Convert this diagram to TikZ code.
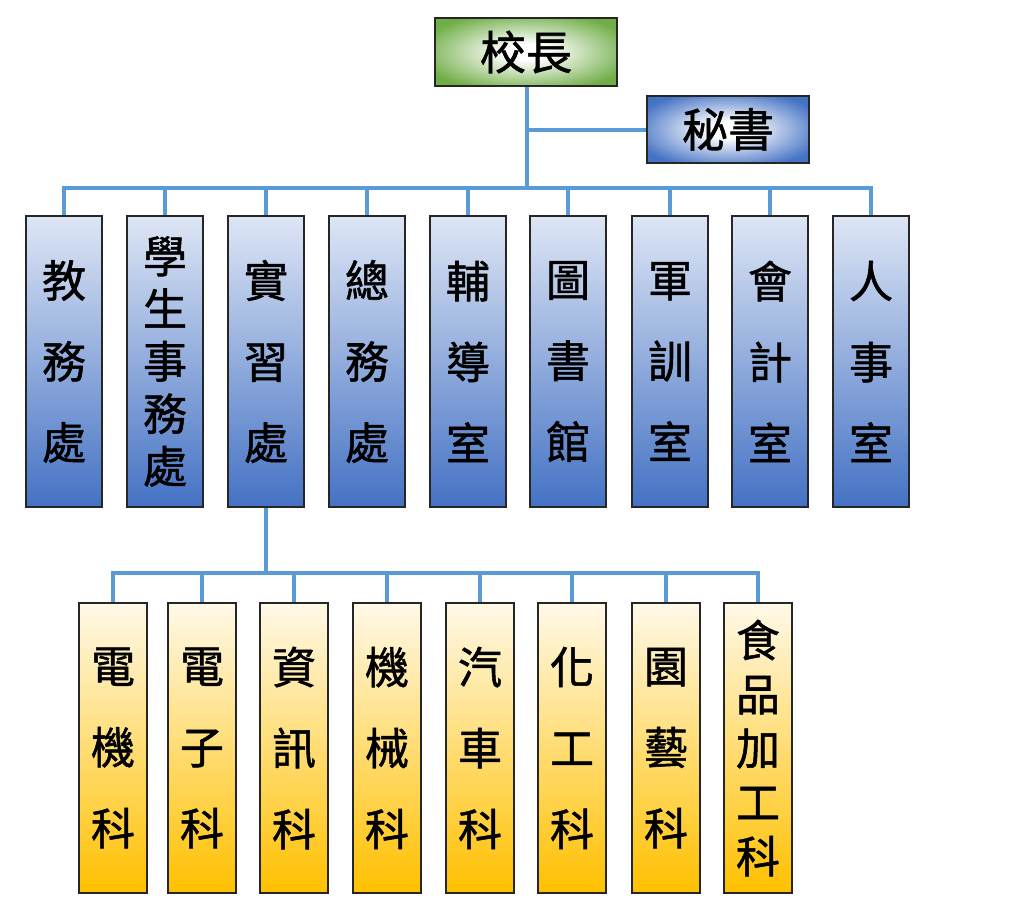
\documentclass[tikz,border=0pt]{standalone}
\usepackage{fontspec}
\newfontfamily\cjk[FakeBold=1.2]{Noto Sans CJK TC}
\definecolor{lineblue}{RGB}{91,155,213}
\definecolor{boxblue}{RGB}{68,114,196}
\definecolor{boxbluetop}{RGB}{222,230,245}
\definecolor{boxgreen}{RGB}{112,173,71}
\definecolor{boxyellow}{RGB}{255,192,0}
\definecolor{boxyellowtop}{RGB}{255,249,232}
\pgfdeclareradialshading{greenglow}{\pgfpoint{0bp}{0bp}}{rgb(0bp)=(1,1,1); rgb(6bp)=(1,1,1); rgb(30bp)=(0.44,0.68,0.28); rgb(75bp)=(0.44,0.68,0.28)}
\pgfdeclareradialshading{blueglow}{\pgfpoint{0bp}{0bp}}{rgb(0bp)=(1,1,1); rgb(6bp)=(1,1,1); rgb(30bp)=(0.27,0.45,0.77); rgb(75bp)=(0.27,0.45,0.77)}
\tikzset{
  conn/.style={draw=lineblue, line width=4pt},
  topbox/.style={draw=black!85, line width=1.5pt, minimum width=#1, minimum height=68pt, inner sep=0pt, font=\cjk\fontsize{46}{46}\selectfont},
  officebox/.style={draw=black!85, line width=1.5pt, top color=boxbluetop, bottom color=boxblue, minimum width=76pt, minimum height=291pt, inner sep=0pt, align=center, font=\cjk\fontsize{44}{81}\selectfont},
  officetight/.style={officebox, font=\cjk\fontsize{44}{52.5}\selectfont},
  deptbox/.style={draw=black!85, line width=1.5pt, top color=boxyellowtop, bottom color=boxyellow, minimum width=68pt, minimum height=290pt, inner sep=0pt, align=center, font=\cjk\fontsize{44}{81}\selectfont},
  depttight/.style={deptbox, font=\cjk\fontsize{44}{54}\selectfont},
}
\begin{document}
\begin{tikzpicture}[x=1pt,y=-1pt]
\useasboundingbox (0,0) rectangle (1024,916);
% top
\node[topbox=182pt, shading=greenglow] (p) at (526,52) {校長};
\node[topbox=162pt, shading=blueglow, minimum height=67pt] (s) at (728,129.5) {秘書};
% offices
\node[officebox] (m1) at (64,361.5) {教\\務\\處};
\node[officetight] (m2) at (165,361.5) {學\\生\\事\\務\\處};
\node[officebox] (m3) at (266,361.5) {實\\習\\處};
\node[officebox] (m4) at (367,361.5) {總\\務\\處};
\node[officebox] (m5) at (468,361.5) {輔\\導\\室};
\node[officebox] (m6) at (568,361.5) {圖\\書\\館};
\node[officebox] (m7) at (670,361.5) {軍\\訓\\室};
\node[officebox] (m8) at (770,361.5) {會\\計\\室};
\node[officebox] (m9) at (871,361.5) {人\\事\\室};
% departments
\node[deptbox] (b1) at (113,748) {電\\機\\科};
\node[deptbox] (b2) at (202,748) {電\\子\\科};
\node[deptbox] (b3) at (294,748) {資\\訊\\科};
\node[deptbox] (b4) at (387,748) {機\\械\\科};
\node[deptbox] (b5) at (480,748) {汽\\車\\科};
\node[deptbox] (b6) at (572,748) {化\\工\\科};
\node[deptbox] (b7) at (666,748) {園\\藝\\科};
\node[depttight] (b8) at (758,748) {食\\品\\加\\工\\科};
% connectors
\coordinate (j1) at (527,188);
\coordinate (j2) at (266,573);
\draw[conn] (p.south -| j1) -- (j1);
\draw[conn] (j1 |- s.west) -- (s.west);
\draw[conn, line cap=rect] (m1.north |- j1) -- (m9.north |- j1);
\foreach \i in {1,...,9}{\draw[conn] (m\i.north |- j1) -- (m\i.north);}
\draw[conn] (m3.south) -- (j2);
\draw[conn, line cap=rect] (b1.north |- j2) -- (b8.north |- j2);
\foreach \i in {1,...,8}{\draw[conn] (b\i.north |- j2) -- (b\i.north);}
\end{tikzpicture}
\end{document}
